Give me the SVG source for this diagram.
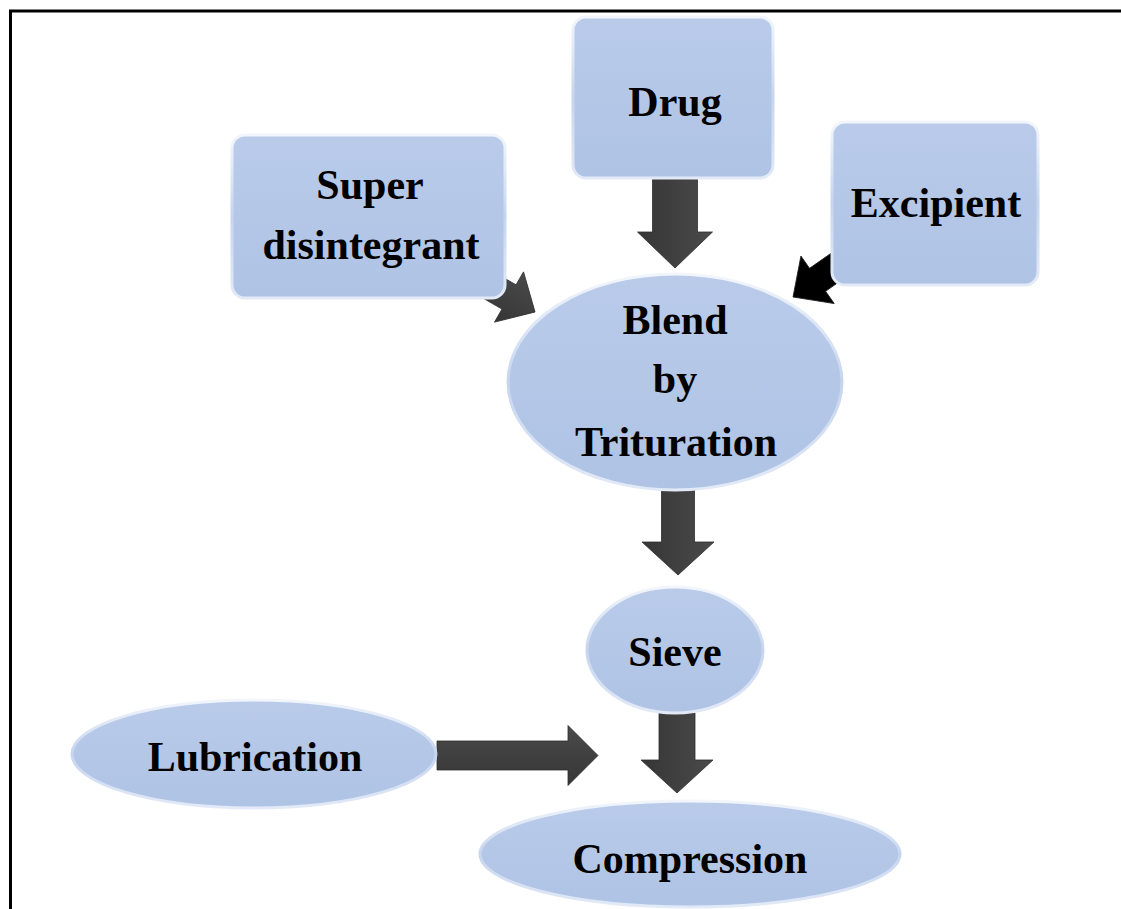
<svg xmlns="http://www.w3.org/2000/svg" width="1121" height="909" viewBox="0 0 1121 909">
<style>
.node{fill:url(#fillg);stroke:url(#edge);stroke-width:3}
.lbl{font-family:"Liberation Serif","Times New Roman",serif;font-weight:bold;font-size:42px;fill:#000;text-anchor:middle}
.arr{fill:url(#arrg);stroke:#2e2e2e;stroke-width:0.8}
.arrk{fill:#000;stroke:#222;stroke-width:0.8}
</style>
<defs>
<linearGradient id="fillg" x1="0" y1="0" x2="0" y2="1">
<stop offset="0" stop-color="#bacbea"/>
<stop offset="0.5" stop-color="#b4c7e7"/>
<stop offset="1" stop-color="#afc3e5"/>
</linearGradient>
<linearGradient id="edge" x1="0" y1="0" x2="0" y2="1">
<stop offset="0" stop-color="#f2f6fc"/>
<stop offset="0.5" stop-color="#c6d5ee"/>
<stop offset="1" stop-color="#e3eaf7"/>
</linearGradient>
<linearGradient id="arrg" x1="0" y1="0" x2="0" y2="1">
<stop offset="0" stop-color="#4a4a4a"/>
<stop offset="1" stop-color="#363636"/>
</linearGradient>
</defs>
<rect width="1121" height="909" fill="#fff"/>
<path d="M10.5 909 V11 H1121" fill="none" stroke="#000" stroke-width="3"/>
<g id="connectors">
<path class="arr" transform="translate(675,268) rotate(90)" d="M-91,-22.5 L-36,-22.5 L-36,-37.5 L0,0 L-36,37.5 L-36,22.5 L-91,22.5 Z"/>
<path class="arr" transform="translate(535,312) rotate(30)" d="M-70,-14 L-30,-14 L-30,-29 L0,0 L-30,29 L-30,14 L-70,14 Z"/>
<path class="arrk" transform="translate(793,297) rotate(145)" d="M-70,-14 L-30,-14 L-30,-29 L0,0 L-30,29 L-30,14 L-70,14 Z"/>
<path class="arr" transform="translate(678,575) rotate(90)" d="M-90,-16.5 L-33,-16.5 L-33,-36 L0,0 L-33,36 L-33,16.5 L-90,16.5 Z"/>
<path class="arr" transform="translate(677,793) rotate(90)" d="M-80,-18 L-33,-18 L-33,-36 L0,0 L-33,36 L-33,18 L-80,18 Z"/>
<path class="arr" transform="translate(598,755.5) rotate(0)" d="M-161,-14.5 L-30,-14.5 L-30,-30 L0,0 L-30,30 L-30,14.5 L-161,14.5 Z"/>
</g>
<g id="drug">
<rect class="node" x="573" y="17" width="200" height="161" rx="13"/>
<text class="lbl" x="675" y="116">Drug</text>
</g>
<g id="super">
<rect class="node" x="232" y="135" width="273" height="163" rx="13"/>
<text class="lbl" x="370" y="199">Super</text>
<text class="lbl" x="371" y="259">disintegrant</text>
</g>
<g id="excipient">
<rect class="node" x="832" y="122" width="206" height="163" rx="13"/>
<text class="lbl" x="936" y="217">Excipient</text>
</g>
<g id="blend">
<ellipse class="node" cx="675" cy="382" rx="167" ry="108"/>
<text class="lbl" x="675" y="334">Blend</text>
<text class="lbl" x="675" y="393">by</text>
<text class="lbl" x="676" y="456">Trituration</text>
</g>
<g id="sieve">
<ellipse class="node" cx="675" cy="650" rx="88" ry="63"/>
<text class="lbl" x="675" y="666">Sieve</text>
</g>
<g id="lubrication">
<ellipse class="node" cx="254" cy="754" rx="182" ry="54"/>
<text class="lbl" x="255" y="771">Lubrication</text>
</g>
<g id="compression">
<ellipse class="node" cx="690" cy="854" rx="210" ry="53"/>
<text class="lbl" x="690" y="873">Compression</text>
</g>
</svg>
